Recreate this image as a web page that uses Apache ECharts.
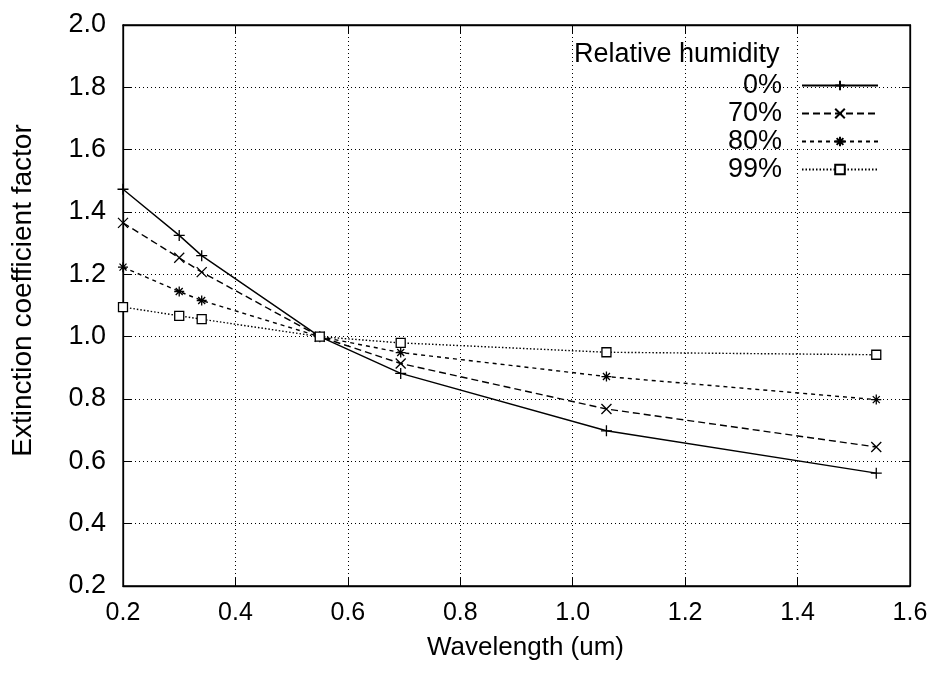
<!DOCTYPE html>
<html><head><meta charset="utf-8">
<script src="https://cdn.jsdelivr.net/npm/echarts@6/dist/echarts.min.js"></script>
<style>html,body{margin:0;padding:0;background:#fff}#c{width:933px;height:674px}</style>
</head><body><div id="c"></div>
<script>
const wavelengths = [0.2, 0.3, 0.34, 0.55, 0.694, 1.06, 1.54];
const rh0  = [1.473, 1.325, 1.26, 1.0, 0.882, 0.698, 0.562];
const rh70 = [1.365, 1.253, 1.207, 1.0, 0.914, 0.768, 0.646];
const rh80 = [1.223, 1.145, 1.116, 1.0, 0.949, 0.872, 0.798];
const rh99 = [1.095, 1.067, 1.056, 1.0, 0.98, 0.95, 0.942];
const seriesNames = ['0%', '70%', '80%', '99%'];
const xTicks = [0.2, 0.4, 0.6, 0.8, 1.0, 1.2, 1.4, 1.6];
const yTicks = [0.2, 0.4, 0.6, 0.8, 1.0, 1.2, 1.4, 1.6, 1.8, 2.0];

const FONT = 'Liberation Sans';
const sym = {
  plus: 'path://M5,0L5,10M0,5L10,5',
  cross: 'path://M0,0L10,10M10,0L0,10',
  star: 'path://M5,0L5,10M0,5L10,5M1.5,1.5L8.5,8.5M8.5,1.5L1.5,8.5',
  square: 'path://M0,0L10,0L10,10L0,10Z'
};
function pairs(v){ return wavelengths.map((x,i)=>[x, v[i]]); }
function mk(name, vals, symbol, dash, size){
  return {
    name, type:'line', data: pairs(vals), symbol, symbolSize: size,
    showAllSymbol: true, z: 3,
    lineStyle:{color:'#000', width:1.4, type: dash},
    itemStyle:{color:'#fff', borderColor:'#000', borderWidth:1.3},
    emphasis:{disabled:true}
  };
}
const chart = echarts.init(document.getElementById('c'), null, {renderer:'canvas'});
const axisCommon = {
  axisLine:{show:true, lineStyle:{color:'#000', width:1.3}},
  axisTick:{show:true, inside:true, length:8, lineStyle:{color:'#000'}},
};
chart.setOption({
  animation:false,
  backgroundColor:'#fff',
  textStyle:{fontFamily:FONT},
  title:{text:'Relative humidity', left:574, top:40, padding:0,
    textStyle:{fontFamily:FONT, fontSize:27, fontWeight:'normal', color:'#000', lineHeight:30}},
  legend:{
    orient:'vertical', right:54, top:72, align:'right', padding:0,
    itemWidth:76, itemHeight:12, itemGap:1,
    data: seriesNames,
    textStyle:{fontFamily:FONT, fontSize:27, color:'#000', lineHeight:27, padding:[0,15,0,0]},
    selectedMode:false
  },
  grid:{left:123, right:23, top:25, bottom:88, show:true, borderColor:'#000', borderWidth:1.3},
  xAxis:[{
    type:'value', min:xTicks[0], max:xTicks[xTicks.length-1], interval:0.2,
    name:'Wavelength (um)', nameLocation:'middle', nameGap:49,
    nameTextStyle:{fontFamily:FONT, fontSize:26, color:'#000', padding:[0,0,0,18]},
    ...axisCommon,
    axisLabel:{fontFamily:FONT, fontSize:25, color:'#000', margin:15, formatter:v=>v.toFixed(1)},
    splitLine:{show:true, lineStyle:{color:'#000', type:[1,3], width:1}}
  },{
    type:'value', position:'top', min:0.2, max:1.6, interval:0.2,
    ...axisCommon, axisLabel:{show:false}, splitLine:{show:false}
  }],
  yAxis:[{
    type:'value', min:yTicks[0], max:yTicks[yTicks.length-1], interval:0.2,
    name:'Extinction coefficient factor', nameLocation:'middle', nameGap:86,
    nameTextStyle:{fontFamily:FONT, fontSize:28, color:'#000', padding:[0,0,0,30]},
    ...axisCommon,
    axisLabel:{fontFamily:FONT, fontSize:27, color:'#000', margin:17, formatter:v=>v.toFixed(1)},
    splitLine:{show:true, lineStyle:{color:'#000', type:[1,3], width:1}}
  },{
    type:'value', position:'right', min:0.2, max:2.0, interval:0.2,
    ...axisCommon, axisLabel:{show:false}, splitLine:{show:false}
  }],
  series:[
    mk(seriesNames[0], rh0, sym.plus, 'solid', 11),
    mk(seriesNames[1], rh70, sym.cross, [7,4], 10),
    mk(seriesNames[2], rh80, sym.star, [4,4], 10),
    mk(seriesNames[3], rh99, sym.square, [1.5,2], 9)
  ]
});
</script></body></html>
